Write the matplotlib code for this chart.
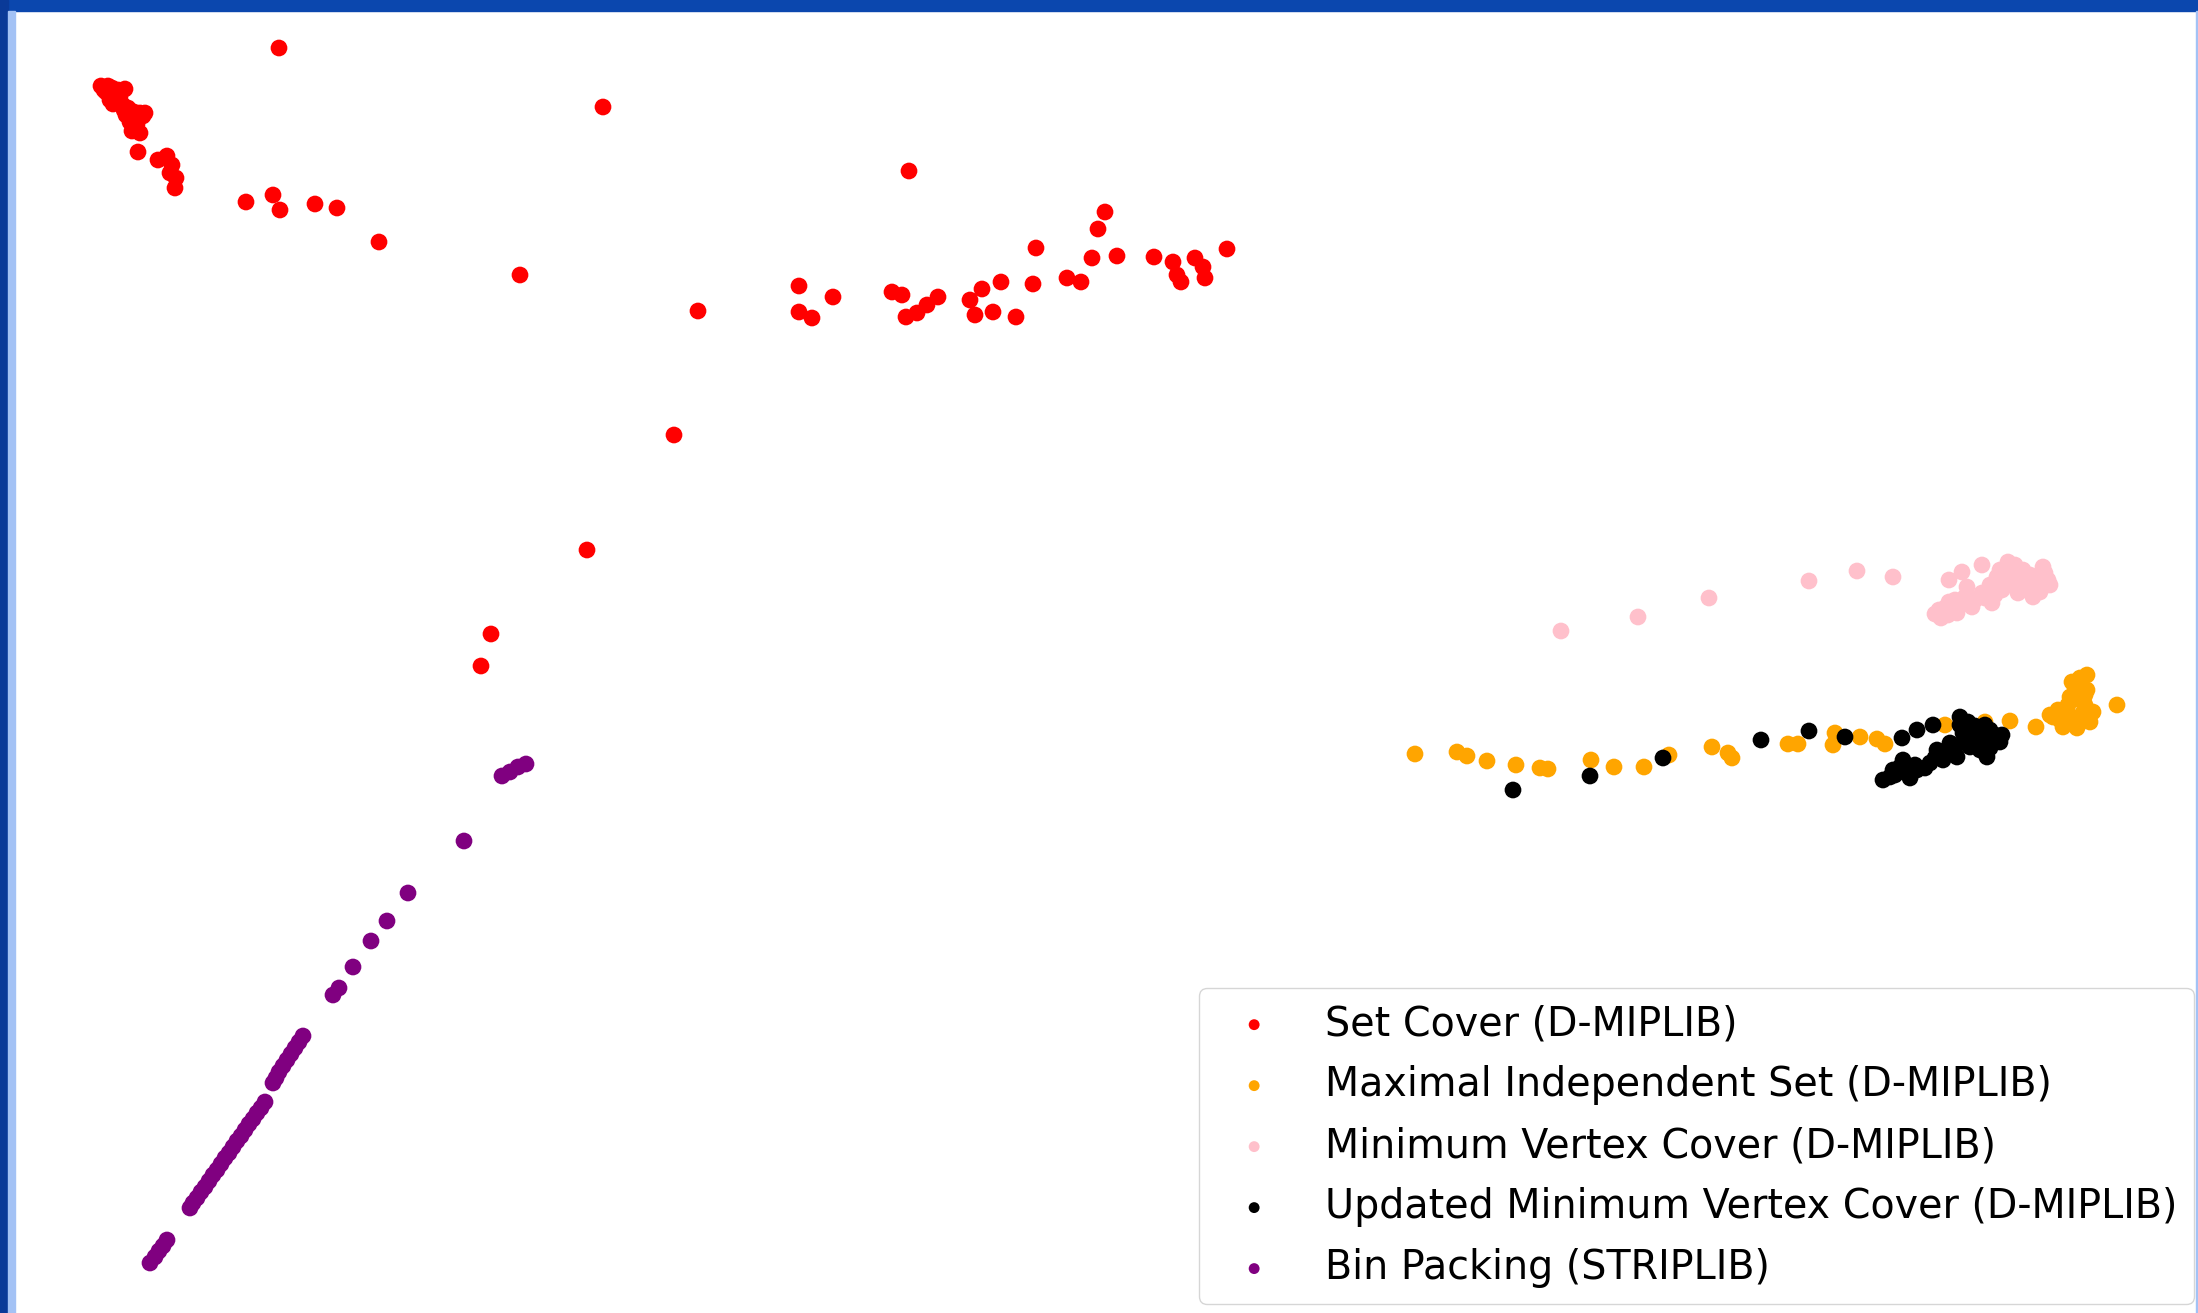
import matplotlib.pyplot as plt
from matplotlib.patches import Rectangle

# 2-D embedding of instance features, one list of (x, y) per problem family
set_cover = [(101, 86), (106, 92), (112, 88), (118, 90), (125, 89), (110, 100), (117, 97),
             (122, 104), (128, 108), (134, 112), (140, 113), (145, 113), (126, 115), (130, 122),
             (137, 124), (132, 131), (140, 133), (138, 152),
             (104, 90), (108, 86), (115, 94), (120, 96), (113, 104), (124, 110), (130, 115),
             (135, 120), (143, 116), (136, 128),
             (158, 160), (167, 156), (172, 165), (170, 173), (176, 178), (175, 188),
             (279, 48), (246, 202), (273, 195), (280, 210), (315, 204), (337, 208), (379, 242),
             (603, 107), (520, 275), (698, 311), (674, 435), (587, 550), (491, 634), (481, 666),
             (909, 171),
             (799, 286), (833, 297), (799, 312), (812, 318), (892, 292), (902, 295), (906, 317),
             (917, 313), (927, 305), (938, 297), (970, 300), (982, 289), (975, 315), (993, 312),
             (1001, 282), (1016, 317), (1033, 284), (1036, 248), (1067, 278), (1081, 282),
             (1092, 258), (1098, 229), (1105, 212), (1117, 256), (1154, 257), (1173, 262),
             (1177, 275), (1181, 282), (1195, 258), (1203, 267), (1205, 278), (1227, 249)]

max_indep_set = [(1415, 754), (1457, 752), (1467, 756), (1487, 761), (1516, 765), (1540, 768),
                 (1548, 769), (1591, 760), (1614, 767), (1644, 767), (1669, 755), (1712, 747),
                 (1728, 753), (1732, 758), (1788, 744), (1798, 744), (1835, 733), (1833, 745),
                 (1860, 737), (1877, 739), (1885, 744), (1945, 725), (1985, 722), (2010, 721),
                 (2036, 727),
                 (2080, 678), (2072, 682), (2087, 675), (2087, 690), (2070, 697), (2080, 700),
                 (2067, 710), (2083, 713), (2093, 712), (2053, 717), (2063, 727), (2077, 728),
                 (2090, 722), (2050, 715), (2070, 722), (2117, 705),
                 (2075, 688), (2085, 695), (2060, 720), (2075, 718), (2085, 705), (2068, 705),
                 (2058, 710)]

min_vertex_cover = [(1561, 631), (1638, 617), (1709, 598), (1809, 581), (1857, 571), (1893, 577),
                    (1949, 580), (1962, 572), (1982, 565), (1941, 618), (1957, 613), (1949, 602),
                    (1972, 607), (1992, 603), (1982, 593), (2002, 590), (2013, 580), (2008, 562),
                    (2023, 570), (2038, 577), (2043, 567), (2033, 597), (2036, 587), (2048, 580),
                    (2018, 593), (1997, 577), (1967, 587), (1939, 610),
                    (1935, 614), (1945, 608), (1955, 600), (1965, 597), (1975, 600), (1985, 598),
                    (1995, 595), (2005, 585), (2015, 587), (2025, 583), (2030, 575), (2045, 573),
                    (2050, 585), (2040, 592), (2028, 590), (2010, 572), (2015, 565), (2000, 570),
                    (1990, 585), (1960, 605), (1948, 615)]

upd_min_vertex_cover = [(1513, 790), (1590, 776), (1663, 758), (1761, 740), (1809, 731),
                        (1845, 737), (1902, 738), (1917, 730), (1933, 725), (1960, 717),
                        (1883, 780), (1890, 777), (1893, 770), (1900, 767), (1903, 760),
                        (1910, 778), (1917, 770), (1930, 763), (1937, 750), (1943, 760),
                        (1950, 743), (1957, 757), (1963, 733), (1970, 747), (1977, 730),
                        (1983, 743), (1990, 730), (1997, 740), (1987, 757), (2002, 735),
                        (1975, 726),
                        (1895, 775), (1905, 772), (1915, 765), (1925, 768), (1935, 758),
                        (1945, 752), (1955, 748), (1965, 740), (1972, 738), (1985, 735),
                        (1995, 735), (1980, 750), (1990, 748), (2000, 742), (1960, 725),
                        (1968, 722), (1985, 725)]

bin_packing = [(502, 776), (510, 772), (518, 767), (526, 764),
               (464, 841), (408, 893), (387, 921), (371, 941), (353, 967), (333, 995), (339, 988),
               (303, 1036), (299, 1042), (295, 1048), (291, 1054), (287, 1060), (283, 1066),
               (279, 1072), (276, 1078), (273, 1083),
               (265, 1102), (261, 1108), (257, 1113), (253, 1119), (249, 1124), (245, 1130),
               (241, 1136), (237, 1141), (233, 1147), (229, 1153), (225, 1158), (221, 1164),
               (217, 1170), (213, 1175), (209, 1181), (205, 1187), (201, 1192), (197, 1198),
               (193, 1203), (190, 1208),
               (167, 1240), (163, 1246), (159, 1251), (155, 1257), (150, 1263)]

series = [(set_cover, 'red', 'Set Cover (D-MIPLIB)'),
          (max_indep_set, 'orange', 'Maximal Independent Set (D-MIPLIB)'),
          (min_vertex_cover, 'pink', 'Minimum Vertex Cover (D-MIPLIB)'),
          (upd_min_vertex_cover, 'black', 'Updated Minimum Vertex Cover (D-MIPLIB)'),
          (bin_packing, 'purple', 'Bin Packing (STRIPLIB)')]

fig = plt.figure(figsize=(21.98, 13.13), dpi=100)
ax = fig.add_axes([0, 0, 1, 1])
for pts, col, name in series:
    xs = [p[0] for p in pts]
    ys = [p[1] for p in pts]
    ax.scatter(xs, ys, s=145, color=col, edgecolors='none', label=name)

ax.set_xlim(0, 2198)
ax.set_ylim(1313, 0)
ax.axis('off')

leg = ax.legend(loc='lower right', bbox_to_anchor=(0.998, 0.007), bbox_transform=fig.transFigure,
                borderaxespad=0, fontsize=28.5, markerscale=0.65, labelspacing=0.53,
                handletextpad=0.8, borderpad=0.4)

# window frame around the plot
fig.patches.append(Rectangle((0, 1 - 11 / 1313), 1, 11 / 1313, transform=fig.transFigure,
                             color='#0b47ae', zorder=10))
fig.patches.append(Rectangle((0, 0), 8 / 2198, 1, transform=fig.transFigure,
                             color='#0a3a98', zorder=10))
fig.patches.append(Rectangle((8 / 2198, 0), 7 / 2198, 1 - 11 / 1313, transform=fig.transFigure,
                             color='#a3c2f5', zorder=10))
fig.patches.append(Rectangle((1 - 2 / 2198, 0), 2 / 2198, 1 - 11 / 1313, transform=fig.transFigure,
                             color='#a3c2f5', zorder=10))

fig.savefig('out.png', dpi=100)
